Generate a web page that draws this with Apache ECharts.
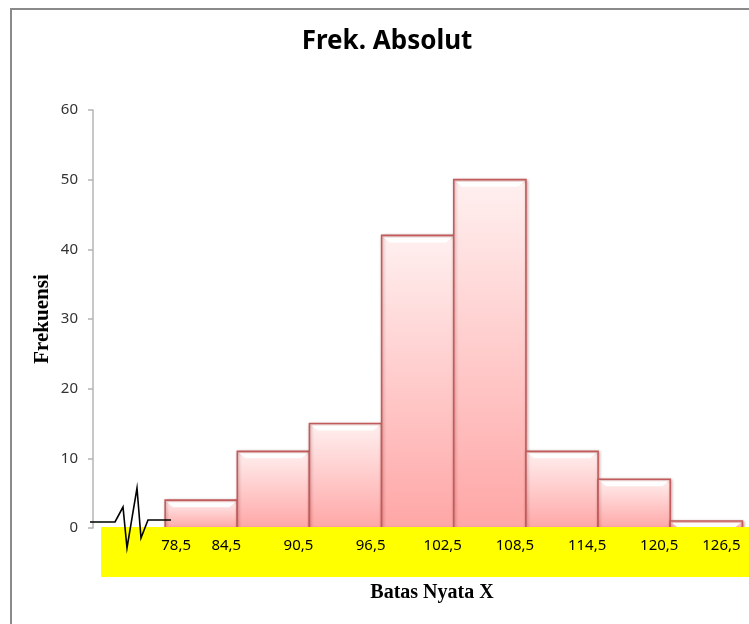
<!DOCTYPE html>
<html>
<head>
<meta charset="utf-8">
<script src="https://cdn.jsdelivr.net/npm/echarts@6/dist/echarts.min.js"></script>
<style>
  html, body { margin: 0; padding: 0; background: #fff; }
  #hist { width: 749px; height: 624px; }
</style>
</head>
<body>
<div id="hist"></div>
<script>
// batas nyata (class boundaries) and absolute frequency per class
var edges = [78.5, 84.5, 90.5, 96.5, 102.5, 108.5, 114.5, 120.5, 126.5];
var edgeLabels = ['78,5', '84,5', '90,5', '96,5', '102,5', '108,5', '114,5', '120,5', '126,5'];
var freq = [4, 11, 15, 42, 50, 11, 7, 1];
var yTicks = [0, 10, 20, 30, 40, 50, 60];

var bars = freq.map(function (f, i) {
  return [edges[i], edges[i + 1], f];
});

function renderBar(params, api) {
  var tl = api.coord([api.value(0), api.value(2)]);
  var br = api.coord([api.value(1), 0]);
  var x = tl[0], y = tl[1], w = br[0] - tl[0], h = br[1] - tl[1];
  return {
    type: 'group',
    children: [
      {
        type: 'rect',
        shape: { x: x, y: y, width: w, height: h },
        style: {
          fill: new echarts.graphic.LinearGradient(0, 0, 0, 1, [
            { offset: 0, color: '#fff0f0' },
            { offset: 1, color: '#ffa6a6' }
          ]),
          stroke: '#c25c5c',
          lineWidth: 1.6,
          shadowBlur: 3,
          shadowOffsetX: 1,
          shadowOffsetY: 1,
          shadowColor: 'rgba(90,0,0,0.35)'
        }
      },
      {
        type: 'polygon',
        shape: { points: [[x + 2, y + 2], [x + w - 2, y + 2], [x + w - 8, y + 7], [x + 8, y + 7]] },
        style: { fill: '#ffffff', opacity: 0.95 }
      }
    ]
  };
}

var chart = echarts.init(document.getElementById('hist'));
var labelFont = { fontFamily: 'Noto Sans', fontSize: 15, color: '#000' };
var option = {
  animation: false,
  backgroundColor: '#fff',
  title: {
    text: 'Frek. Absolut',
    left: 382,
    top: 24,
    textAlign: 'center',
    textStyle: { fontFamily: 'Noto Sans', fontWeight: 'bold', fontSize: 26, color: '#000' }
  },
  grid: { left: 93, right: 0, top: 110, bottom: 96, outerBoundsMode: 'none', containLabel: false },
  xAxis: {
    type: 'value',
    min: 72.5,
    max: 127.05,
    z: 60,
    name: 'Batas Nyata X',
    nameLocation: 'middle',
    nameGap: 55,
    nameTextStyle: { fontFamily: 'Liberation Serif', fontWeight: 'bold', fontSize: 20, color: '#000', padding: [0, 0, 0, 22] },
    axisLine: { show: false },
    axisTick: { show: false },
    splitLine: { show: false },
    axisLabel: {
      customValues: edges,
      margin: 10,
      hideOverlap: false,
      fontFamily: 'Noto Sans',
      fontSize: 15,
      color: '#000',
      formatter: function (v) {
        var i = edges.indexOf(v);
        var key = i === 0 ? 'first' : (i === edges.length - 1 ? 'last' : 'rest');
        return '{' + key + '|' + edgeLabels[i] + '}';
      },
      rich: {
        first: Object.assign({ padding: [0, 0, 0, 22] }, labelFont),
        rest: Object.assign({ padding: [0, 22, 0, 0] }, labelFont),
        last: Object.assign({ padding: [0, 42, 0, 0] }, labelFont)
      }
    }
  },
  yAxis: {
    type: 'value',
    min: 0,
    max: 60,
    interval: 10,
    name: 'Frekuensi',
    nameLocation: 'middle',
    nameGap: 40,
    nameMoveOverlap: false,
    nameTextStyle: { fontFamily: 'Liberation Serif', fontWeight: 'bold', fontSize: 21, color: '#000' },
    axisLine: { show: true, lineStyle: { color: '#b4b4b4', width: 1.5 } },
    axisTick: { show: true, length: 5, lineStyle: { color: '#b4b4b4', width: 1.5 } },
    splitLine: { show: false },
    axisLabel: {
      customValues: yTicks,
      margin: 15,
      fontFamily: 'Noto Sans',
      fontSize: 15,
      color: '#333'
    }
  },
  graphic: [
    {
      type: 'polyline',
      z: 1,
      shape: { points: [[11, 624], [11, 9], [749, 9]] },
      style: { stroke: '#8a8a8a', lineWidth: 2, fill: null }
    },
    {
      type: 'rect',
      z: 50,
      shape: { x: 101, y: 527, width: 648, height: 50 },
      style: { fill: '#ffff00' }
    },
    {
      type: 'polyline',
      z: 70,
      shape: {
        points: [[90, 522], [115, 522], [123, 507], [127, 548], [137, 488], [141, 538], [148, 520], [171, 520]]
      },
      style: { stroke: '#000', lineWidth: 1.6, fill: null }
    }
  ],
  series: [{
    type: 'custom',
    renderItem: renderBar,
    encode: { x: [0, 1], y: 2 },
    data: bars
  }]
};
chart.setOption(option);
</script>
</body>
</html>
